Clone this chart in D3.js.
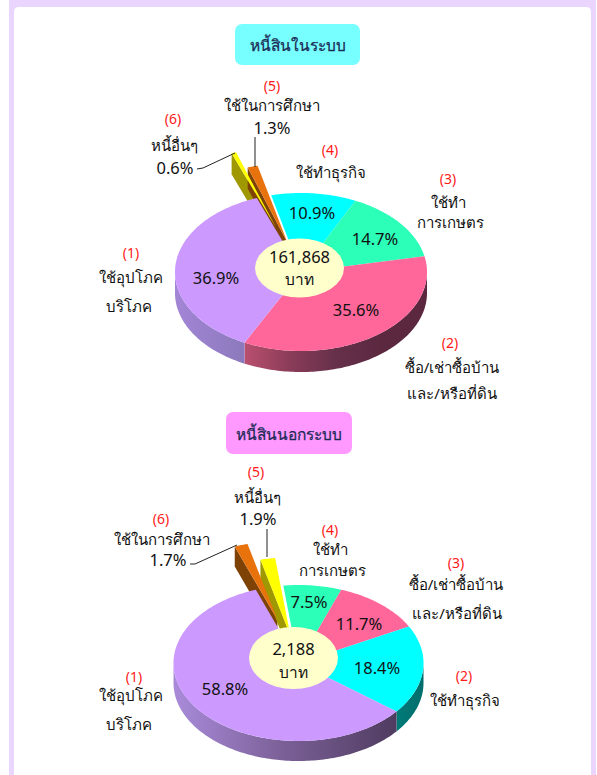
<!DOCTYPE html>
<html><head><meta charset="utf-8">
<script src="https://cdn.jsdelivr.net/npm/d3@7"></script>
<style>html,body{margin:0;background:#fff}svg{display:block}text{font-family:"Noto Sans",sans-serif}</style>
</head><body><svg id="c" width="597" height="775"></svg>
<script>
// ---------- data ----------
const titleA = "หนี้สินในระบบ";
const titleB = "หนี้สินนอกระบบ";
const numbers = ["(1)","(2)","(3)","(4)","(5)","(6)"];
const namesA = [["ใช้อุปโภค","บริโภค"],["ซื้อ/เช่าซื้อบ้าน","และ/หรือที่ดิน"],["ใช้ทำ","การเกษตร"],["ใช้ทำธุรกิจ"],["ใช้ในการศึกษา"],["หนี้อื่นๆ"]];
const valuesA = [36.9,35.6,14.7,10.9,1.3,0.6];
const namesB = [["ใช้อุปโภค","บริโภค"],["ใช้ทำธุรกิจ"],["ซื้อ/เช่าซื้อบ้าน","และ/หรือที่ดิน"],["ใช้ทำ","การเกษตร"],["หนี้อื่นๆ"],["ใช้ในการศึกษา"]];
const valuesB = [58.8,18.4,11.7,7.5,1.9,1.7];
const totalA = "161,868";
const totalB = "2,188";
const unit = "บาท";

// ---------- layout and style ----------
const clockwise = [3,2,1,0,5,4];
const chartA = {
  title:titleA, names:namesA, values:valuesA, total:totalA,
  box:{x:235,y:24,w:125,h:41,fill:"#77FFFF"}, titleY:45,
  cx:301, cy:272, rx:126, ry:79, depth:21, start:-13.7,
  colors:["#CC99FF","#FF6699","#2BFFB8","#00FFFF","#E8720C","#FFFF00"],
  sides:{
    0:["#A385D6","#8C7ABC"],
    1:["#B9506F","#8A3C58","#66304A","#5C2840","#5C2840"],
    3:["#007F7F","#007F7F"]},
  radial:{4:"#7E4206",5:"#A09800"},
  explode:{4:0.39,5:0.60},
  hole:{cx:299.5,cy:268,rx:44.5,ry:29.5},
  totalY:[256,279],
  pct:[[216,277],[356,309],[375,238],[312,212],[272,127],[175,167]],
  num:[[131,252],[450,342],[448,178],[330,149],[272,85],[173,118]],
  name:[[[131,277],[129,306]],[[452,367],[452,393]],[[448,202],[450,222]],[[331,172]],[[272,105]],[[174,145]]],
  leaders:[[[197,169],[203,168],[235,153]],[[255,137],[255,167]]]
};
const chartB = {
  title:titleB, names:namesB, values:valuesB, total:totalB,
  box:{x:226,y:412,w:126,h:42,fill:"#FF99FF"}, titleY:434,
  cx:298.5, cy:663, rx:125, ry:78, depth:20, start:-7,
  colors:["#CC99FF","#00FFFF","#FF6699","#2BFFB8","#FFFF00","#E8720C"],
  sides:{
    0:["#A98BDA","#7A5F96","#4F3C60"],
    1:["#007A78","#006E6C"]},
  radial:{4:"#A09800",5:"#7E4206"},
  explode:{4:0.36,5:0.58},
  hole:{cx:293.5,cy:658,rx:44.5,ry:31},
  totalY:[648,672],
  pct:[[225,688],[377,667],[359,623],[309,601],[258,518],[168,559]],
  num:[[134,676],[464,675],[456,562],[330,529],[256,471],[161,518]],
  name:[[[131,695],[129,724]],[[465,700]],[[456,584],[457,613]],[[330,549],[332,570]],[[257,497]],[[162,539]]],
  leaders:[[[190,564],[195,564],[237,545]],[[267,529],[267,557]]]
};

const svg = d3.select("#c");
const defs = svg.append("defs");
const frame = "#EAD5FF";
// page frame
svg.append("rect").attr("x",9).attr("y",-10).attr("width",587).attr("height",800).attr("fill",frame);
svg.append("path").attr("fill","#fff")
  .attr("d","M14,12 Q14,7 19,7 L586,7 Q591,7 591,12 L591,775 L14,775 Z");

function centered(sel,x,y){return sel.append("text").attr("x",x).attr("y",y).attr("text-anchor","middle").attr("dominant-baseline","central");}

function drawChart(ch,idx){
  const g = svg.append("g");
  g.append("rect").attr("x",ch.box.x).attr("y",ch.box.y).attr("width",ch.box.w).attr("height",ch.box.h)
    .attr("rx",7).attr("fill",ch.box.fill);
  centered(g,ch.box.x+ch.box.w/2,ch.titleY).text(ch.title).attr("font-size",15.5).attr("fill","#1B2A55")
    .attr("stroke","#1B2A55").attr("stroke-width",0.25);

  const sx = d3.scaleLinear().domain([-1,1]).range([ch.cx-ch.rx,ch.cx+ch.rx]);
  const sy = d3.scaleLinear().domain([-1,1]).range([ch.cy-ch.ry,ch.cy+ch.ry]);
  const s0 = ch.start*Math.PI/180;
  const pie = d3.pie().sort(null).value(i=>ch.values[i]).startAngle(s0).endAngle(s0+2*Math.PI);
  const arcs = pie(clockwise).map(a=>({i:a.data,a0:a.startAngle,a1:a.endAngle}));

  const px = (t,r=1,e=0,mid=0)=>sx(r*Math.sin(t)+e*Math.sin(mid));
  const py = (t,r=1,e=0,mid=0)=>sy(-r*Math.cos(t)-e*Math.cos(mid));
  const rim = (a0,a1,e,mid)=>{
    const n=Math.max(2,Math.ceil(Math.abs(a1-a0)/0.02));
    return d3.range(n+1).map(k=>{const t=a0+(a1-a0)*k/n;return [px(t,1,e,mid),py(t,1,e,mid)];});
  };
  const line = d3.line();
  const topFace = d=>{
    const e=ch.explode[d.i]||0, mid=(d.a0+d.a1)/2;
    return line([[px(0,0,e,mid),py(0,0,e,mid)],...rim(d.a0,d.a1,e,mid)])+"Z";
  };

  // radial faces of the pulled-out slices
  const pulled = arcs.filter(d=>ch.explode[d.i]);
  pulled.forEach(d=>{
    const e=ch.explode[d.i], mid=(d.a0+d.a1)/2;
    const ax=px(0,0,e,mid), ay=py(0,0,e,mid), ox=px(d.a0,1,e,mid), oy=py(d.a0,1,e,mid);
    g.append("path").attr("fill",ch.radial[d.i])
      .attr("d",line([[ax,ay],[ox,oy],[ox,oy+ch.depth],[ax,ay+ch.depth]])+"Z");
  });

  // outer walls of the main body
  const lo=Math.PI/2, hi=3*Math.PI/2;
  arcs.filter(d=>!ch.explode[d.i]).forEach(d=>{
    const a=Math.max(d.a0,lo), b=Math.min(d.a1,hi);
    if(a>=b||!ch.sides[d.i]) return;
    const pts=rim(a,b,0,0);
    const id=`w${idx}${d.i}`;
    const xs=d3.extent(pts,p=>p[0]);
    const gr=defs.append("linearGradient").attr("id",id).attr("gradientUnits","userSpaceOnUse")
      .attr("x1",xs[0]).attr("x2",xs[1]).attr("y1",0).attr("y2",0);
    ch.sides[d.i].forEach((c,k,arr)=>gr.append("stop").attr("offset",k/(arr.length-1)).attr("stop-color",c));
    const low=pts.map(p=>[p[0],p[1]+ch.depth]).reverse();
    g.append("path").attr("fill",`url(#${id})`).attr("d",line(pts.concat(low))+"Z");
  });

  // top faces
  g.selectAll(null).data(arcs.filter(d=>!ch.explode[d.i])).join("path")
    .attr("d",topFace).attr("fill",d=>ch.colors[d.i]);
  g.selectAll(null).data(pulled).join("path")
    .attr("d",topFace).attr("fill",d=>ch.colors[d.i]);

  // centre disc
  g.append("ellipse").attr("cx",ch.hole.cx).attr("cy",ch.hole.cy).attr("rx",ch.hole.rx).attr("ry",ch.hole.ry).attr("fill","#FFFFCC");
  centered(g,ch.hole.cx,ch.totalY[0]).text(ch.total).attr("font-size",16.5).attr("fill","#111");
  centered(g,ch.hole.cx,ch.totalY[1]).text(unit).attr("font-size",15.5).attr("fill","#111");

  // leaders
  ch.leaders.forEach(l=>g.append("path").attr("d",line(l)).attr("fill","none").attr("stroke","#222").attr("stroke-width",1));

  // labels
  ch.values.forEach((v,i)=>{
    centered(g,ch.pct[i][0],ch.pct[i][1]).text(v.toFixed(1)+"%").attr("font-size",16.5).attr("fill","#111");
    centered(g,ch.num[i][0],ch.num[i][1]).text(numbers[i]).attr("font-size",14).attr("fill","#FF1A1A");
    ch.names[i].forEach((t,k)=>centered(g,ch.name[i][k][0],ch.name[i][k][1]).text(t).attr("font-size",15).attr("fill","#111"));
  });
}
drawChart(chartA,0);
drawChart(chartB,1);
</script></body></html>
